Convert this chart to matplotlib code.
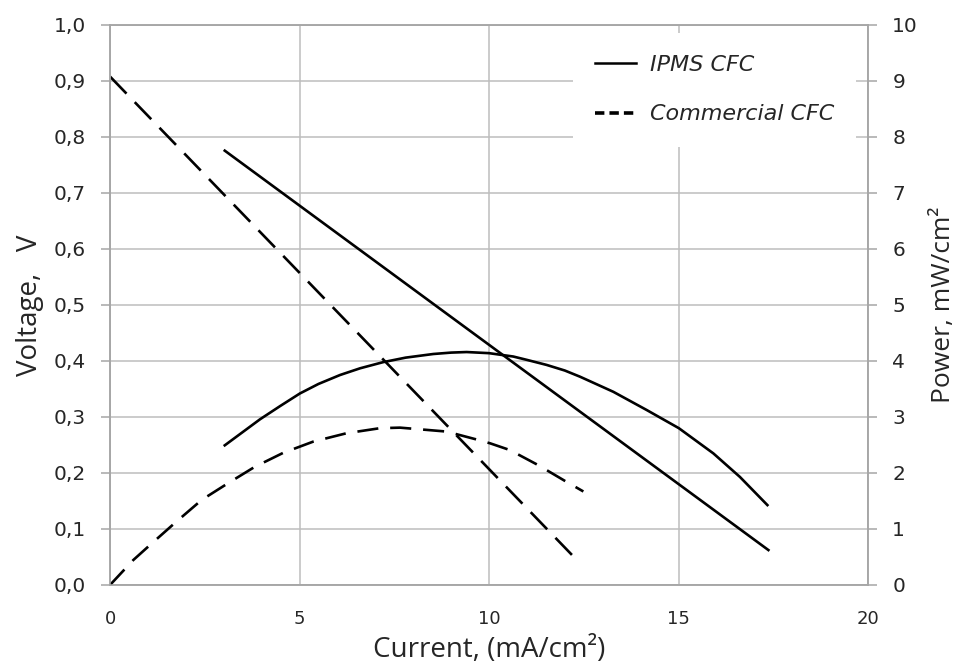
import matplotlib
matplotlib.use("Agg")
import matplotlib.pyplot as plt
from matplotlib.lines import Line2D
from matplotlib.ticker import FuncFormatter

# ---- data ----
ipms_v_x = [3.0, 17.4]
ipms_v_y = [0.777, 0.061]
comm_v_x = [0.0, 12.27]
comm_v_y = [0.908, 0.048]

ipms_p_x = [3.0, 3.5, 3.96, 4.5, 5.01, 5.5, 6.07, 6.6, 7.21, 7.8, 8.53, 9.0, 9.41,
            10.0, 10.64, 11.0, 11.52, 12.0, 12.4, 13.28, 14.16, 15.01, 15.92, 16.62, 17.37]
ipms_p_y = [2.48, 2.73, 2.96, 3.2, 3.42, 3.59, 3.75, 3.87, 3.98, 4.06, 4.125, 4.15, 4.16,
            4.14, 4.08, 4.02, 3.93, 3.83, 3.72, 3.45, 3.125, 2.80, 2.35, 1.93, 1.41]

comm_p_x = [0.0, 0.615, 1.055, 1.715, 2.42, 3.12, 3.82, 4.57, 5.36, 6.24, 7.12, 7.65,
            8.88, 9.72, 10.03, 10.55, 11.30, 12.0, 12.49]
comm_p_y = [0.0, 0.446, 0.714, 1.11, 1.52, 1.82, 2.11, 2.36, 2.56, 2.71, 2.80, 2.81,
            2.74, 2.59, 2.53, 2.41, 2.14, 1.86, 1.67]

x_ticks = [0, 5, 10, 15, 20]
v_ticks = [0.0, 0.1, 0.2, 0.3, 0.4, 0.5, 0.6, 0.7, 0.8, 0.9, 1.0]
p_ticks = [0, 1, 2, 3, 4, 5, 6, 7, 8, 9, 10]

labels = ["IPMS CFC", "Commercial CFC"]

plt.rcParams['font.family'] = ['DejaVu Sans']
txt = '#262626'
gridc = '#BDBDBD'
spc = '#A6A6A6'
lab_font = ['Open Sans', 'DejaVu Sans']

fig = plt.figure(figsize=(9.66, 6.66), dpi=100)
ax = fig.add_axes([110/966, 1-585/666, 758/966, 560/666])
ax2 = ax.twinx()

ax.set_xlim(0, 20)
ax.set_ylim(0, 1.0)
ax2.set_ylim(0, 10)
ax.set_xticks(x_ticks)
ax.set_yticks(v_ticks)
ax2.set_yticks(p_ticks)
ax.yaxis.set_major_formatter(FuncFormatter(lambda v, p: f"{v:.1f}".replace('.', ',')))

ax.grid(True, color=gridc, lw=1.1)
ax.set_axisbelow(True)
for a in (ax, ax2):
    for s in a.spines.values():
        s.set_color(spc)
        s.set_linewidth(1.1)

ax.tick_params(axis='x', length=0, pad=18, labelsize=13, colors=txt)
ax.tick_params(axis='y', length=6.5, width=1.1, color=spc, pad=11, labelsize=14.5, labelcolor=txt)
ax2.tick_params(axis='y', length=6.5, width=1.1, color=spc, pad=11, labelsize=14.5, labelcolor=txt)

lw = 1.9
ax.plot(ipms_v_x, ipms_v_y, color='black', lw=lw, solid_capstyle='butt')
ax.plot(comm_v_x, comm_v_y, color='black', lw=lw, dashes=(9, 4.5), dash_capstyle='butt')
ax2.plot(ipms_p_x, ipms_p_y, color='black', lw=lw, solid_capstyle='butt', solid_joinstyle='round')
ax2.plot(comm_p_x, comm_p_y, color='black', lw=lw, dashes=(8, 4.5), dash_capstyle='butt')

ax.set_xlabel("Current, (mA/cm²)", fontsize=20, color=txt, labelpad=6, family=lab_font)
ax.set_ylabel("Voltage,   V", fontsize=20, color=txt, labelpad=7, family=lab_font)
ax2.set_ylabel("Power, mW/cm²", fontsize=19, color=txt, labelpad=9, family=lab_font)

handles = [Line2D([], [], color='black', lw=1.8),
           Line2D([], [], color='black', lw=2.6, dashes=(2.6, 1.4))]
leg = ax2.legend(handles, labels, loc='upper left', bbox_to_anchor=(0.611, 0.986),
                 borderaxespad=0, frameon=True, fancybox=False, framealpha=1,
                 edgecolor='none', facecolor='white',
                 prop={'style': 'italic', 'size': 16},
                 handlelength=1.85, handletextpad=0.6, labelspacing=1.32, borderpad=1.0)
for t in leg.get_texts():
    t.set_color(txt)

fig.savefig("out.png", dpi=100)
